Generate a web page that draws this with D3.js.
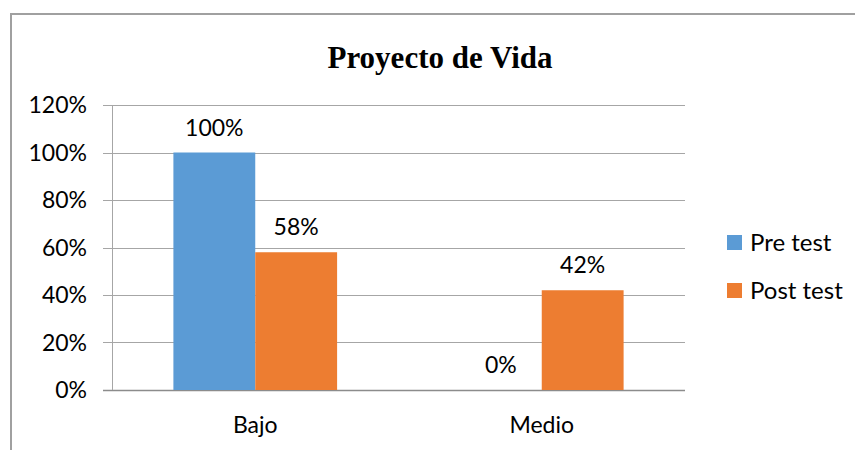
<!DOCTYPE html>
<html>
<head>
<meta charset="utf-8">
<script src="https://cdn.jsdelivr.net/npm/d3@7"></script>
<style>
  body { margin: 0; background: #fff; }
  text { font-family: Lato, "Open Sans", sans-serif; fill: #000; }
</style>
</head>
<body>
<svg width="855" height="450"></svg>
<script>
var categories = ["Bajo", "Medio"];
var seriesNames = ["Pre test", "Post test"];
var preTest = [1.00, 0.00];
var postTest = [0.58, 0.42];
var yTicks = [0, 0.2, 0.4, 0.6, 0.8, 1.0, 1.2];
var colors = ["#5b9bd5", "#ed7d31"];

var svg = d3.select("svg");

// outer chart border (chart is clipped on right and bottom)
svg.append("path")
  .attr("d", "M11,451 L11,14 L856,14")
  .attr("fill", "none")
  .attr("stroke", "#a0a0a0")
  .attr("stroke-width", 2);

svg.append("text")
  .attr("x", 440)
  .attr("y", 68)
  .attr("text-anchor", "middle")
  .style("font-family", "'Liberation Serif', 'Times New Roman', serif")
  .style("font-weight", "bold")
  .style("font-size", "31px")
  .text("Proyecto de Vida");

var x0 = d3.scaleBand().domain(categories).range([112, 685]).paddingInner(0.4286).paddingOuter(0.2143);
var x1 = d3.scaleBand().domain(seriesNames).range([0, x0.bandwidth()]);
var y = d3.scaleLinear().domain([0, 1.2]).range([390, 105]);

// gridlines
svg.append("g")
  .selectAll("line")
  .data(yTicks)
  .enter()
  .append("line")
  .attr("x1", 103)
  .attr("x2", 685)
  .attr("y1", function(d) { return Math.round(y(d)) + 0.5; })
  .attr("y2", function(d) { return Math.round(y(d)) + 0.5; })
  .attr("stroke", function(d) { return d === 0 ? "#8c8c8c" : "#a6a6a6"; })
  .attr("stroke-width", function(d) { return d === 0 ? 1.5 : 1; });

svg.append("line")
  .attr("x1", 112.5).attr("x2", 112.5)
  .attr("y1", y(1.2)).attr("y2", y(0))
  .attr("stroke", "#a6a6a6");

svg.append("g")
  .selectAll("text")
  .data(yTicks)
  .enter()
  .append("text")
  .attr("x", 87)
  .attr("y", function(d) { return y(d) + 8; })
  .attr("text-anchor", "end")
  .style("font-size", "23px")
  .text(d3.format(".0%"));

var rows = [];
categories.forEach(function(c, i) {
  rows.push({ cat: c, series: seriesNames[0], value: preTest[i], color: colors[0] });
  rows.push({ cat: c, series: seriesNames[1], value: postTest[i], color: colors[1] });
});

svg.append("g")
  .selectAll("rect")
  .data(rows)
  .enter()
  .append("rect")
  .attr("x", function(d) { return x0(d.cat) + x1(d.series); })
  .attr("y", function(d) { return y(d.value); })
  .attr("width", x1.bandwidth())
  .attr("height", function(d) { return y(0) - y(d.value); })
  .attr("fill", function(d) { return d.color; });

svg.append("g")
  .selectAll("text")
  .data(rows)
  .enter()
  .append("text")
  .attr("x", function(d) { return x0(d.cat) + x1(d.series) + x1.bandwidth() / 2; })
  .attr("y", function(d) { return y(d.value) - 17; })
  .attr("text-anchor", "middle")
  .style("font-size", "23px")
  .text(function(d) { return d3.format(".0%")(d.value); });

svg.append("g")
  .selectAll("text")
  .data(categories)
  .enter()
  .append("text")
  .attr("x", function(d) { return x0(d) + x0.bandwidth() / 2; })
  .attr("y", 433)
  .attr("text-anchor", "middle")
  .style("font-size", "23px")
  .text(function(d) { return d; });

var legend = svg.append("g")
  .selectAll("g")
  .data(seriesNames)
  .enter()
  .append("g")
  .attr("transform", function(d, i) { return "translate(727," + (235 + i * 48) + ")"; });

legend.append("rect")
  .attr("width", 15)
  .attr("height", 15)
  .attr("fill", function(d, i) { return colors[i]; });

legend.append("text")
  .attr("x", 23)
  .attr("y", 16)
  .style("font-size", "24px")
  .text(function(d) { return d; });
</script>
</body>
</html>
